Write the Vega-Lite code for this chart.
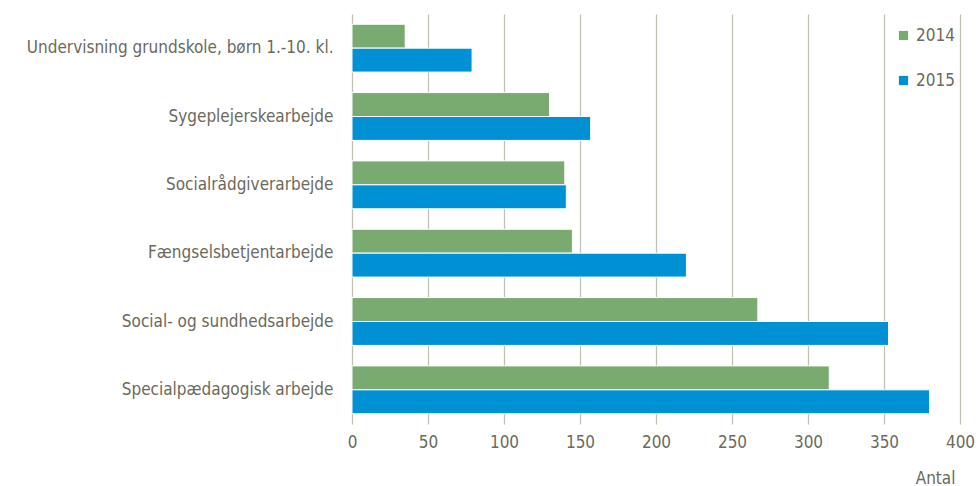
{
  "$schema": "https://vega.github.io/schema/vega-lite/v6.json",
  "width": 608,
  "height": 410,
  "autosize": {"type": "none"},
  "padding": {"left": 352, "top": 14, "right": 18, "bottom": 62},
  "background": "white",
  "config": {
    "view": {"stroke": null},
    "font": "DejaVu Sans Condensed, Liberation Sans, sans-serif",
    "axis": {"labelFont": "DejaVu Sans Condensed, Liberation Sans, sans-serif", "titleFont": "DejaVu Sans Condensed, Liberation Sans, sans-serif"},
    "legend": {"labelFont": "DejaVu Sans Condensed, Liberation Sans, sans-serif"}
  },
  "data": {
    "values": [
      {"Arbejde": "Undervisning grundskole, børn 1.-10. kl.", "År": "2014", "Antal": 35},
      {"Arbejde": "Undervisning grundskole, børn 1.-10. kl.", "År": "2015", "Antal": 79},
      {"Arbejde": "Sygeplejerskearbejde", "År": "2014", "Antal": 130},
      {"Arbejde": "Sygeplejerskearbejde", "År": "2015", "Antal": 157},
      {"Arbejde": "Socialrådgiverarbejde", "År": "2014", "Antal": 140},
      {"Arbejde": "Socialrådgiverarbejde", "År": "2015", "Antal": 141},
      {"Arbejde": "Fængselsbetjentarbejde", "År": "2014", "Antal": 145},
      {"Arbejde": "Fængselsbetjentarbejde", "År": "2015", "Antal": 220},
      {"Arbejde": "Social- og sundhedsarbejde", "År": "2014", "Antal": 267},
      {"Arbejde": "Social- og sundhedsarbejde", "År": "2015", "Antal": 353},
      {"Arbejde": "Specialpædagogisk arbejde", "År": "2014", "Antal": 314},
      {"Arbejde": "Specialpædagogisk arbejde", "År": "2015", "Antal": 380}
    ]
  },
  "mark": {"type": "bar", "stroke": "white", "strokeWidth": 1},
  "encoding": {
    "y": {
      "field": "Arbejde",
      "type": "nominal",
      "sort": ["Undervisning grundskole, børn 1.-10. kl.", "Sygeplejerskearbejde", "Socialrådgiverarbejde", "Fængselsbetjentarbejde", "Social- og sundhedsarbejde", "Specialpædagogisk arbejde"],
      "scale": {"paddingInner": 0.3, "paddingOuter": 0.15},
      "axis": {
        "title": null,
        "domain": false,
        "ticks": false,
        "labelFontSize": 17,
        "labelColor": "#6b6a5c",
        "labelPadding": 19,
        "labelLimit": 400
      }
    },
    "yOffset": {"field": "År", "type": "nominal", "sort": ["2014", "2015"]},
    "x": {
      "field": "Antal",
      "type": "quantitative",
      "scale": {"domain": [0, 400]},
      "axis": {
        "title": "Antal",
        "values": [0, 50, 100, 150, 200, 250, 300, 350, 400],
        "domain": false,
        "ticks": false,
        "grid": true,
        "gridColor": "#c2c1b3",
        "gridWidth": 1.3,
        "labelFlush": false,
        "labelFontSize": 17,
        "labelColor": "#6b6a5c",
        "labelPadding": 10,
        "titleFontSize": 17,
        "titleFontWeight": "normal",
        "titleColor": "#6b6a5c",
        "titleAnchor": "end",
        "titleAlign": "right",
        "titleX": 603,
        "titleY": 54,
        "titleBaseline": "middle"
      }
    },
    "color": {
      "field": "År",
      "type": "nominal",
      "scale": {"domain": ["2014", "2015"], "range": ["#79ab70", "#0091d5"]},
      "legend": {
        "title": null,
        "orient": "none",
        "legendX": 543,
        "legendY": 13,
        "symbolType": "square",
        "symbolSize": 85,
        "symbolStrokeWidth": 0,
        "labelFontSize": 17,
        "labelColor": "#6b6a5c",
        "rowPadding": 27,
        "labelOffset": 4
      }
    }
  }
}
